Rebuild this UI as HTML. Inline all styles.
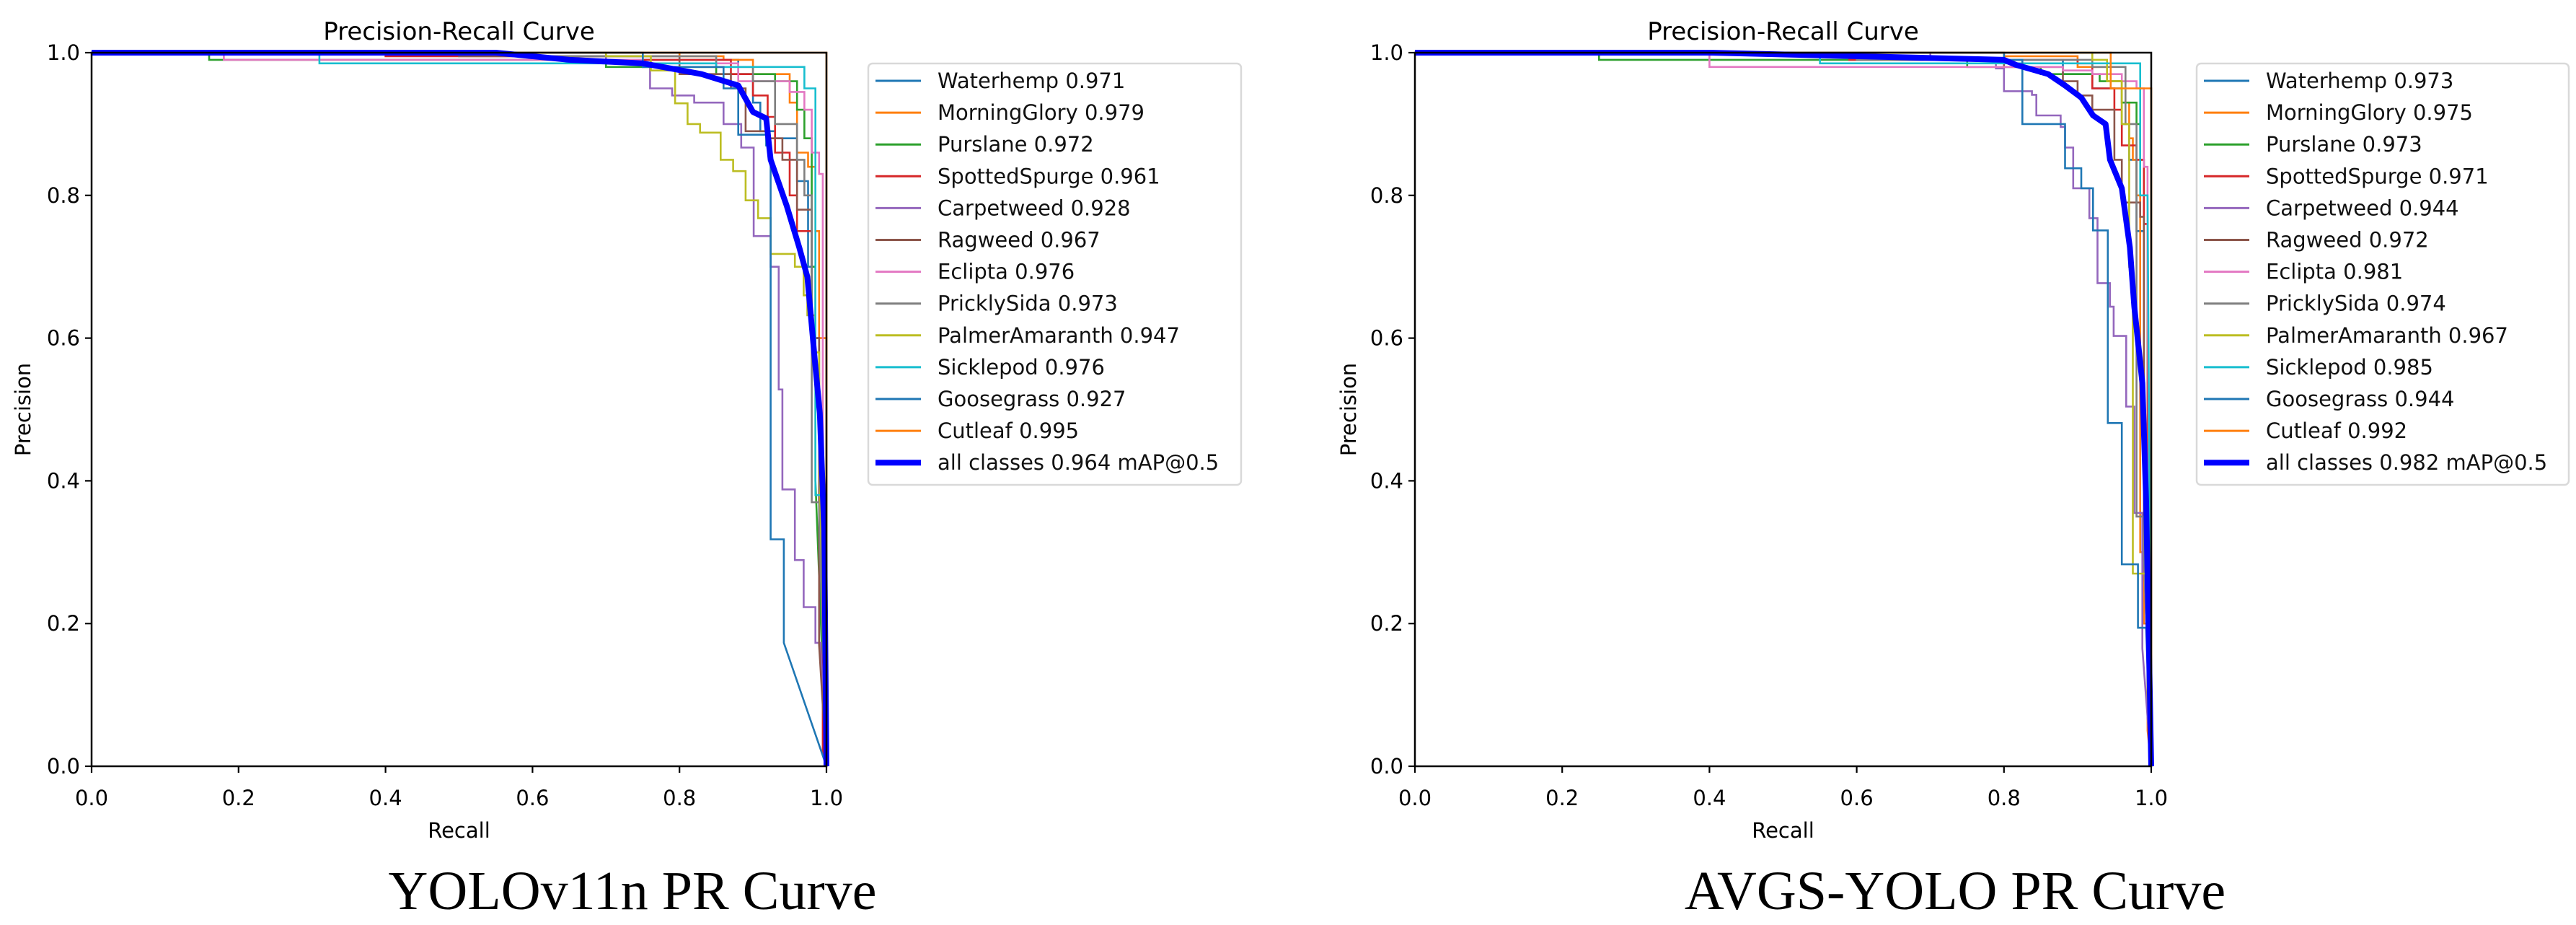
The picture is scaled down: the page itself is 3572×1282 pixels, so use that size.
<!DOCTYPE html>
<html><head><meta charset="utf-8"><style>
html,body{margin:0;padding:0;background:#fff;}
svg{display:block;font-family:"DejaVu Sans","Liberation Sans",sans-serif;}
</style></head><body>
<svg id="fig" width="3572" height="1282" viewBox="0 0 3572 1282" xmlns="http://www.w3.org/2000/svg"></svg>
<script>
const classNames = ["Waterhemp","MorningGlory","Purslane","SpottedSpurge","Carpetweed","Ragweed","Eclipta","PricklySida","PalmerAmaranth","Sicklepod","Goosegrass","Cutleaf"];
const colors = ["#1f77b4","#ff7f0e","#2ca02c","#d62728","#9467bd","#8c564b","#e377c2","#7f7f7f","#bcbd22","#17becf","#1f77b4","#ff7f0e"];
const tickValues = [0,0.2,0.4,0.6,0.8,1.0];
const tickLabels = ["0.0","0.2","0.4","0.6","0.8","1.0"];

const leftAP = ["0.971","0.979","0.972","0.961","0.928","0.967","0.976","0.973","0.947","0.976","0.927","0.995"];
const leftAllAP = "0.964";
const rightAP = ["0.973","0.975","0.973","0.971","0.944","0.972","0.981","0.974","0.967","0.985","0.944","0.992"];
const rightAllAP = "0.982";

const leftCurves = [
 [[0,1],[0.7,1],[0.75,0.99],[0.88,0.97],[0.9,0.93],[0.91,0.89],[0.93,0.88],[0.96,0.82],[0.975,0.7],[0.985,0.55],[0.99,0.4],[1,0]],
 [[0,1],[0.8,0.995],[0.86,0.99],[0.9,0.97],[0.95,0.93],[0.96,0.86],[0.975,0.84],[0.985,0.75],[0.99,0.6],[1,0.1],[1,0]],
 [[0,1],[0.16,1],[0.16,0.99],[0.7,0.98],[0.85,0.97],[0.93,0.96],[0.96,0.92],[0.97,0.88],[0.98,0.7],[0.985,0.4],[1,0]],
 [[0,1],[0.4,0.995],[0.75,0.99],[0.87,0.97],[0.9,0.94],[0.92,0.91],[0.93,0.86],[0.95,0.8],[0.96,0.75],[0.98,0.6],[0.99,0.4],[0.995,0.02],[1,0]],
 [[0,1],[0.7,0.99],[0.75,0.98],[0.76,0.95],[0.79,0.94],[0.82,0.93],[0.86,0.9],[0.884,0.867],[0.901,0.743],[0.924,0.70],[0.935,0.528],[0.94,0.388],[0.957,0.289],[0.969,0.223],[0.985,0.173],[0.992,0.165],[1,0]],
 [[0,1],[0.5,0.995],[0.8,0.97],[0.87,0.95],[0.89,0.89],[0.92,0.88],[0.94,0.85],[0.96,0.78],[0.98,0.6],[0.99,0.17],[1,0]],
 [[0,1],[0.18,1],[0.18,0.99],[0.75,0.985],[0.88,0.96],[0.95,0.945],[0.97,0.92],[0.98,0.86],[0.99,0.83],[0.995,0.5],[1,0]],
 [[0,1],[0.6,0.995],[0.85,0.98],[0.9,0.96],[0.93,0.9],[0.96,0.85],[0.97,0.8],[0.98,0.37],[0.99,0.35],[1,0]],
 [[0,1],[0.7,0.995],[0.761,0.975],[0.794,0.929],[0.811,0.9],[0.828,0.888],[0.856,0.85],[0.873,0.834],[0.89,0.793],[0.907,0.768],[0.924,0.718],[0.957,0.70],[0.969,0.66],[0.974,0.632],[0.985,0.58],[0.99,0.45],[1,0]],
 [[0,1],[0.31,1],[0.31,0.985],[0.85,0.98],[0.96,0.98],[0.97,0.95],[0.98,0.95],[0.985,0.38],[1,0.35],[1,0]],
 [[0,1],[0.7,1],[0.75,0.98],[0.86,0.95],[0.88,0.885],[0.918,0.87],[0.924,0.318],[0.942,0.318],[0.942,0.173],[1,0]],
 [[0,1],[0.995,1],[1,0.6],[1,0]]
];
const leftAll = [[0,1],[0.55,1],[0.65,0.99],[0.75,0.985],[0.83,0.97],[0.88,0.954],[0.9,0.917],[0.918,0.908],[0.924,0.85],[0.946,0.785],[0.963,0.727],[0.974,0.686],[0.985,0.56],[0.991,0.495],[0.997,0.33],[1,0]];

const rightCurves = [
 [[0,1],[0.8,0.99],[0.88,0.97],[0.92,0.95],[0.96,0.9],[0.97,0.85],[0.98,0.75],[0.99,0.5],[1,0]],
 [[0,1],[0.8,0.995],[0.9,0.98],[0.94,0.96],[0.96,0.93],[0.97,0.88],[0.975,0.85],[0.98,0.8],[0.985,0.3],[0.99,0.2],[0.995,0.05],[1,0]],
 [[0,1],[0.25,1],[0.25,0.99],[0.75,0.98],[0.85,0.97],[0.93,0.96],[0.96,0.93],[0.98,0.9],[0.985,0.85],[0.99,0.5],[1,0]],
 [[0,1],[0.59,0.99],[0.9,0.985],[0.92,0.95],[0.95,0.92],[0.96,0.87],[0.98,0.85],[0.99,0.76],[0.995,0.07],[1,0]],
 [[0,1],[0.7,0.99],[0.789,0.978],[0.8,0.946],[0.838,0.941],[0.844,0.912],[0.877,0.896],[0.883,0.867],[0.894,0.81],[0.916,0.768],[0.927,0.677],[0.944,0.644],[0.949,0.603],[0.966,0.504],[0.977,0.355],[0.988,0.165],[1,0]],
 [[0,1],[0.8,0.98],[0.88,0.96],[0.9,0.94],[0.92,0.92],[0.95,0.85],[0.96,0.79],[0.985,0.77],[0.99,0.3],[1,0]],
 [[0,1],[0.4,0.98],[0.88,0.975],[0.92,0.97],[0.96,0.96],[0.98,0.95],[0.99,0.84],[0.995,0.67],[1,0]],
 [[0,1],[0.6,0.99],[0.88,0.99],[0.92,0.98],[0.96,0.98],[0.965,0.9],[0.98,0.35],[0.99,0.3],[1,0]],
 [[0,1],[0.85,1],[0.92,0.99],[0.94,0.96],[0.96,0.9],[0.97,0.7],[0.975,0.27],[0.985,0.27],[0.995,0.1],[1,0]],
 [[0,1],[0.55,0.985],[0.98,0.985],[0.985,0.8],[0.995,0.8],[1,0]],
 [[0,1],[0.8,0.99],[0.825,0.9],[0.883,0.9],[0.883,0.838],[0.905,0.81],[0.921,0.751],[0.94,0.751],[0.941,0.481],[0.96,0.481],[0.96,0.283],[0.98,0.283],[0.982,0.194],[0.993,0.194],[1,0]],
 [[0,1],[0.945,1],[0.945,0.95],[1,0.95],[1,0]]
];
const rightAll = [[0,1],[0.4,1],[0.6,0.995],[0.8,0.99],[0.816,0.983],[0.86,0.97],[0.883,0.954],[0.905,0.937],[0.921,0.912],[0.938,0.9],[0.944,0.85],[0.96,0.81],[0.971,0.727],[0.977,0.644],[0.988,0.537],[0.993,0.372],[1,0]];

const NS = "http://www.w3.org/2000/svg";
const svg = document.getElementById("fig");
function mk(tag, attrs, parent, text){
  const e = document.createElementNS(NS, tag);
  for (const k in attrs) e.setAttribute(k, attrs[k]);
  if (text !== undefined) e.textContent = text;
  (parent || svg).appendChild(e);
  return e;
}
// step-style path: hold precision until next recall, then drop; final segment straight
function stepPts(c, sx, sy){
  const out = [];
  for (let i = 0; i < c.length; i++){
    const d = c[i];
    if (i > 0 && i < c.length - 1){
      out.push([sx(d[0]), sy(c[i-1][1])]);
    }
    out.push([sx(d[0]), sy(d[1])]);
  }
  return out.map(p => p[0].toFixed(1) + "," + p[1].toFixed(1)).join(" ");
}

function drawPanel(id, x0, x1, y0, y1, curves, aps, allCurve, allAP, legX, legW, precX, caption, capX){
  const g = mk("g", {});
  
  
  const sx = v => x0 + v * (x1 - x0);
  const sy = v => y1 - v * (y1 - y0);
  const clipId = id + "-clip";
  const cp = mk("clipPath", {id: clipId}, g);
  mk("rect", {x: x0 - 6, y: y0 - 6, width: x1 - x0 + 12, height: y1 - y0 + 12}, cp);
  const plot = mk("g", {"clip-path": "url(#" + clipId + ")"}, g);
  
  
  curves.forEach((c, i) => {
    const p = mk("polyline", {points: stepPts(c, sx, sy), fill: "none", stroke: colors[i], "stroke-width": 2.6, "stroke-linejoin": "miter"}, plot);
    
    
  });
  const pa = mk("polyline", {points: allCurve.map(d => sx(d[0]).toFixed(1) + "," + sy(d[1]).toFixed(1)).join(" "), fill: "none", stroke: "#0000ff", "stroke-width": 8, "stroke-linejoin": "round"}, plot);
  
  
  const sp = mk("rect", {x: x0, y: y0, width: x1 - x0, height: y1 - y0, fill: "none", stroke: "#000", "stroke-width": 2.5}, g);
  
  
  tickValues.forEach((v, i) => {
    mk("line", {x1: sx(v), x2: sx(v), y1: y1, y2: y1 + 9, stroke: "#000", "stroke-width": 2.2}, g);
    const tx = mk("text", {x: sx(v), y: y1 + 54, "font-size": 29, "text-anchor": "middle", fill: "#000"}, g, tickLabels[i]);
    
    
    mk("line", {x1: x0 - 9, x2: x0, y1: sy(v), y2: sy(v), stroke: "#000", "stroke-width": 2.2}, g);
    const ty = mk("text", {x: x0 - 16, y: sy(v) + 10, "font-size": 29, "text-anchor": "end", fill: "#000"}, g, tickLabels[i]);
    
    
  });
  const tt = mk("text", {x: (x0 + x1) / 2, y: 55, "font-size": 34, "text-anchor": "middle", fill: "#000"}, g, "Precision-Recall Curve");
  
  
  const xt = mk("text", {x: (x0 + x1) / 2, y: y1 + 99, "font-size": 29, "text-anchor": "middle", fill: "#000"}, g, "Recall");
  
  
  const yt = mk("text", {x: precX, y: (y0 + y1) / 2, "font-size": 29, "text-anchor": "middle", fill: "#000", transform: "rotate(-90 " + precX + " " + ((y0 + y1) / 2) + ")", dy: 10}, g, "Precision");
  
  
  const lg = mk("g", {}, g);
  
  
  mk("rect", {x: legX, y: 88, width: legW, height: 584, rx: 6, fill: "#fff", stroke: "#d9d9d9", "stroke-width": 2.5}, lg);
  const labels = classNames.map((n, i) => n + " " + aps[i]).concat(["all classes " + allAP + " mAP@0.5"]);
  labels.forEach((lab, i) => {
    const yy = 112 + i * 44.1;
    const ln = mk("line", {x1: legX + 10, x2: legX + 73, y1: yy, y2: yy, stroke: i < 12 ? colors[i] : "#0000ff", "stroke-width": i < 12 ? 3 : 8}, lg);
    
    
    const t = mk("text", {x: legX + 96, y: yy + 10, "font-size": 29, fill: "#111"}, lg, lab);
    
    
  });
  const cap = mk("text", {x: capX, y: 1260, "font-size": 76, "text-anchor": "middle", fill: "#000", "font-family": "'Liberation Serif', serif"}, g, caption);
  
  
}

drawPanel("yolov11n", 127, 1146, 73, 1062, leftCurves, leftAP, leftAll, leftAllAP, 1204, 517, 32, "YOLOv11n PR Curve", 877);
drawPanel("avgs-yolo", 1962, 2983, 73, 1062, rightCurves, rightAP, rightAll, rightAllAP, 3046, 516, 1870, "AVGS-YOLO PR Curve", 2711);
</script>
</body></html>
